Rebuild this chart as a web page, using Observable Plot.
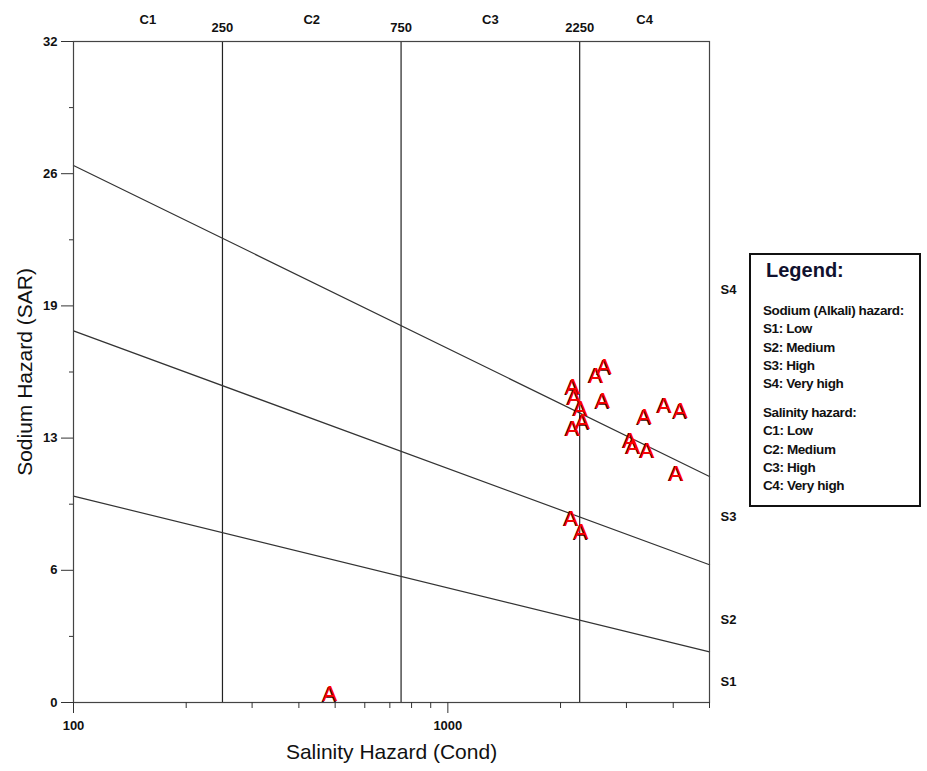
<!DOCTYPE html>
<html>
<head>
<meta charset="utf-8">
<script src="https://cdn.jsdelivr.net/npm/d3@7"></script>
<script src="https://cdn.jsdelivr.net/npm/@observablehq/plot@0.6"></script>
<style>
  body { margin: 0; background: #fff; }
  #wrap { position: relative; width: 927px; height: 771px; font-family: "Liberation Sans", Arial, sans-serif; }
  #legend { position: absolute; left: 749px; top: 253px; width: 168px; height: 250px; border: 2px solid #111; background: #fff; overflow: hidden; color: #111; }
  #legend .title { position: absolute; left: 15px; top: 4px; font-size: 20px; font-weight: bold; color: #10112e; }
  #legend .blk { position: absolute; left: 12px; font-size: 13.5px; font-weight: bold; line-height: 18.3px; white-space: nowrap; letter-spacing: -0.4px; }
</style>
</head>
<body>
<div id="wrap"></div>
<script>
// ---- data ----
const sampleEC  = [2617, 2487, 2154, 2176, 2592, 2258, 2292, 2154, 3349, 3787, 4179, 3066, 3124, 3405, 4070, 2133, 2268, 484];
const sampleSAR = [16.23, 15.83, 15.26, 14.75, 14.59, 14.22, 13.57, 13.25, 13.81, 14.38, 14.10, 12.68, 12.39, 12.20, 11.07, 8.89, 8.25, 0.4];
const sampleLabel = "A";

const boundaryEC = [100, 5000];
const boundaryS4 = [26.0, 10.94];
const boundaryS3 = [17.99, 6.67];
const boundaryS2 = [9.99, 2.45];

const salinityBreaks = [250, 750, 2250];
const salinityClasses = ["C1", "C2", "C3", "C4"];
const salinityClassPos = [158, 433, 1299, 3354];

const sodiumClasses = ["S4", "S3", "S2", "S1"];
const sodiumClassPos = [20, 9, 4, 1];

const yTicks = [0, 6.4, 12.8, 19.2, 25.6, 32];
const yTickLabels = ["0", "6", "13", "19", "26", "32"];
const yMinor = [3.2, 9.6, 16, 22.4, 28.8];
const xTicks = [100, 1000];
const xTickLabels = ["100", "1000"];
const xMinor = [200, 300, 400, 500, 600, 700, 800, 900, 2000, 3000, 4000, 5000];

const xTitle = "Salinity Hazard (Cond)";
const yTitle = "Sodium Hazard (SAR)";

const legendTitle = "Legend:";
const legendSodium = ["Sodium (Alkali) hazard:", "S1: Low", "S2: Medium", "S3: High", "S4: Very high"];
const legendSalinity = ["Salinity hazard:", "C1: Low", "C2: Medium", "C3: High", "C4: Very high"];

// ---- build ----
const points = sampleEC.map((ec, i) => ({ec, sar: sampleSAR[i]}));
const boundaries = [];
[["S4", boundaryS4], ["S3", boundaryS3], ["S2", boundaryS2]].forEach(([k, arr]) => {
  boundaryEC.forEach((ec, i) => boundaries.push({k, ec, sar: arr[i]}));
});
const cLabels = salinityClasses.map((t, i) => ({t, x: salinityClassPos[i]}));
const sLabels = sodiumClasses.map((t, i) => ({t, y: sodiumClassPos[i]}));

const bold = {fontWeight: "bold", fontSize: 13, fill: "#111"};

const chart = Plot.plot({
  width: 927,
  height: 771,
  marginLeft: 73,
  marginRight: 218,
  marginTop: 41,
  marginBottom: 69,
  style: {fontFamily: "'Liberation Sans', Arial, sans-serif", background: "white", color: "#111"},
  x: {type: "log", domain: [100, 5000]},
  y: {domain: [0, 32]},
  marks: [
    Plot.ruleX(salinityBreaks, {stroke: "#222", strokeWidth: 1.2}),
    Plot.line(boundaries, {x: "ec", y: "sar", z: "k", stroke: "#333", strokeWidth: 1.2}),
    Plot.frame({stroke: "#444", strokeWidth: 1.2}),
    Plot.axisY({ticks: yTicks, tickSize: 12, tickPadding: 4, tickFormat: d => yTickLabels[yTicks.indexOf(d)], label: null, stroke: "#333", ...bold}),
    Plot.axisY({ticks: yMinor, tickSize: 4, tickFormat: () => "", label: null, stroke: "#333"}),
    Plot.axisX({ticks: xTicks, tickSize: 11, tickPadding: 7, tickFormat: d => xTickLabels[xTicks.indexOf(d)], label: null, stroke: "#333", ...bold}),
    Plot.axisX({ticks: xMinor, tickSize: 6, tickFormat: () => "", label: null, stroke: "#333"}),
    Plot.text(salinityBreaks, {x: d => d, frameAnchor: "top", dy: -14, textAnchor: "middle", lineAnchor: "middle", text: d => String(d), ...bold}),
    Plot.text(cLabels, {x: "x", frameAnchor: "top", dy: -22, textAnchor: "middle", lineAnchor: "middle", text: "t", ...bold}),
    Plot.text(sLabels, {y: "y", frameAnchor: "right", dx: 19, textAnchor: "middle", lineAnchor: "middle", text: "t", ...bold}),
    Plot.text([xTitle], {frameAnchor: "bottom", dy: 50, textAnchor: "middle", lineAnchor: "middle", text: d => d, fontSize: 21, fill: "#111"}),
    Plot.text([yTitle], {frameAnchor: "left", dx: -48, rotate: -90, textAnchor: "middle", lineAnchor: "middle", text: d => d, fontSize: 21, fill: "#111"}),
    Plot.text(points, {x: "ec", y: "sar", text: () => sampleLabel, fill: "#3a0000", fontSize: 22, dx: -1, dy: 0.5}),
    Plot.text(points, {x: "ec", y: "sar", text: () => sampleLabel, fill: "#ff0000", fontSize: 22})
  ]
});

const wrap = document.getElementById("wrap");
wrap.appendChild(chart);

const lg = document.createElement("div");
lg.id = "legend";
lg.innerHTML = `<div class="title">${legendTitle}</div>` +
  `<div class="blk" style="top:47px">${legendSodium.map(s => `<div>${s}</div>`).join("")}</div>` +
  `<div class="blk" style="top:149px">${legendSalinity.map(s => `<div>${s}</div>`).join("")}</div>`;
wrap.appendChild(lg);
</script>
</body>
</html>
